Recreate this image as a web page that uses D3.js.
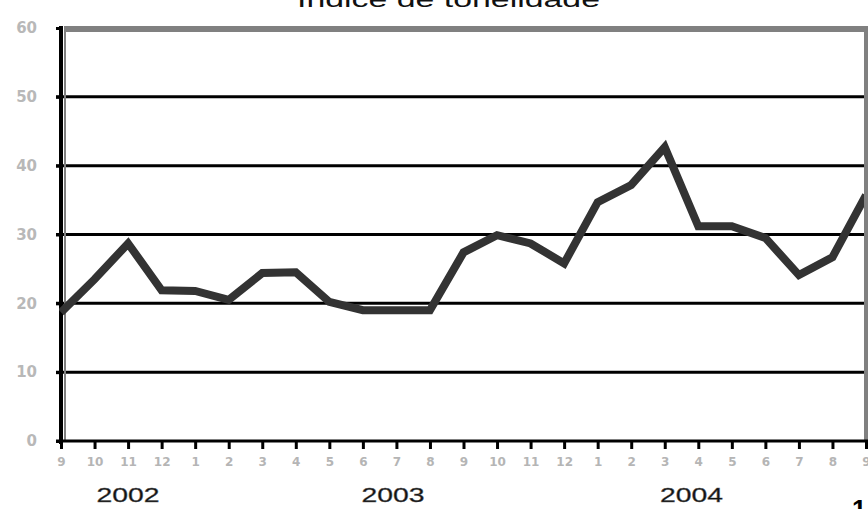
<!DOCTYPE html>
<html>
<head>
<meta charset="utf-8">
<script src="https://cdn.jsdelivr.net/npm/d3@7"></script>
<style>
  body { margin: 0; background: #fff; }
  svg { display: block; }
</style>
</head>
<body>
<div id="chart"></div>
<script>
"use strict";

const TITLE = "Índice de tonelidade";
const MONTHS = ["9", "10", "11", "12", "1", "2", "3", "4", "5", "6", "7", "8",
    "9", "10", "11", "12", "1", "2", "3", "4", "5", "6", "7", "8", "9"];
const VALUES = [18.7, 23.5, 28.7, 21.9, 21.8, 20.5, 24.4, 24.5, 20.2, 19.0, 19.0, 19.0,
    27.4, 29.9, 28.7, 25.8, 34.7, 37.2, 42.7, 31.2, 31.2, 29.5, 24.1, 26.7, 35.7];
const Y_TICKS = [0, 10, 20, 30, 40, 50, 60];
const YEARS = [{ label: "2002", at: 2 }, { label: "2003", at: 9.9 }, { label: "2004", at: 18.8 }];

const W = 868, H = 509;
const LEFT = 61, RIGHT = 866, TOP = 28, BOTTOM = 441;

const svg = d3.select("#chart").append("svg")
    .attr("width", W)
    .attr("height", H);

const x = d3.scaleLinear()
    .domain([0, MONTHS.length - 1])
    .range([LEFT, RIGHT]);

const y = d3.scaleLinear()
    .domain([0, 60])
    .range([BOTTOM, TOP]);

// title, cut off at top like the source
svg.append("text")
    .attr("x", 297)
    .attr("y", 7)
    .attr("textLength", 303)
    .attr("lengthAdjust", "spacingAndGlyphs")
    .style("font", "22px 'Liberation Sans', Arial, sans-serif")
    .style("fill", "#111")
    .text(TITLE);

// gray frame top and right
svg.append("rect")
    .attr("x", LEFT + 3).attr("y", TOP - 2)
    .attr("width", W - LEFT - 3).attr("height", 6)
    .attr("fill", "#808080");
svg.append("rect")
    .attr("x", 864).attr("y", TOP - 2)
    .attr("width", 4).attr("height", BOTTOM - TOP + 2)
    .attr("fill", "#808080");

// horizontal gridlines
svg.append("g")
    .selectAll("line")
    .data(Y_TICKS.filter(d => d > 0 && d < 60))
    .join("line")
    .attr("x1", 56).attr("x2", 864)
    .attr("y1", d => y(d)).attr("y2", d => y(d))
    .attr("stroke", "#000")
    .attr("stroke-width", 3);

// y axis
const yaxis = svg.append("g")
    .attr("transform", `translate(${LEFT},0)`)
    .call(d3.axisLeft(y).tickValues(Y_TICKS).tickSize(5).tickPadding(19)
        .tickFormat(d3.format("d")));
yaxis.select(".domain").remove();
yaxis.selectAll(".tick line").attr("stroke", "#000").attr("stroke-width", 3);
yaxis.selectAll(".tick text")
    .style("font", "bold 15px 'DejaVu Sans', sans-serif")
    .style("fill", "#b8b8b8");
svg.append("line")
    .attr("x1", LEFT).attr("x2", LEFT)
    .attr("y1", TOP - 2).attr("y2", BOTTOM + 3)
    .attr("stroke", "#000").attr("stroke-width", 4);
svg.append("line")
    .attr("x1", LEFT + 4).attr("x2", LEFT + 4)
    .attr("y1", TOP + 4).attr("y2", BOTTOM - 1)
    .attr("stroke", "#808080").attr("stroke-width", 2);

// x axis
const xaxis = svg.append("g")
    .attr("transform", `translate(0,${BOTTOM})`)
    .call(d3.axisBottom(x).tickValues(d3.range(MONTHS.length))
        .tickSize(8).tickPadding(8).tickFormat(i => MONTHS[i]));
xaxis.select(".domain").remove();
xaxis.selectAll(".tick line").attr("stroke", "#000").attr("stroke-width", 3);
xaxis.selectAll(".tick text")
    .style("font", "bold 12px 'DejaVu Sans', sans-serif")
    .style("fill", "#b5b5b5");
svg.append("line")
    .attr("x1", 56).attr("x2", W)
    .attr("y1", BOTTOM).attr("y2", BOTTOM)
    .attr("stroke", "#000").attr("stroke-width", 3);

// year labels
svg.append("g")
    .selectAll("text")
    .data(YEARS)
    .join("text")
    .attr("x", d => x(d.at))
    .attr("y", 502)
    .attr("text-anchor", "middle")
    .style("font", "21px 'Liberation Sans', Arial, sans-serif")
    .style("fill", "#111")
    .style("stroke", "#555")
    .style("stroke-width", 0.4)
    .attr("textLength", 63)
    .attr("lengthAdjust", "spacingAndGlyphs")
    .text(d => d.label);

// page number, cut off
svg.append("text")
    .attr("x", 852)
    .attr("y", 518)
    .style("font", "bold 26px 'Liberation Sans', Arial, sans-serif")
    .style("fill", "#000")
    .text("1");

// series line
const line = d3.line()
    .x((d, i) => x(i))
    .y(d => y(d));

svg.append("clipPath")
    .attr("id", "plot-clip")
    .append("rect")
    .attr("x", LEFT - 2).attr("y", 0)
    .attr("width", 864 - LEFT + 2).attr("height", H);

svg.append("path")
    .datum(VALUES)
    .attr("clip-path", "url(#plot-clip)")
    .attr("d", line)
    .attr("fill", "none")
    .attr("stroke", "#333")
    .attr("stroke-width", 8)
    .attr("stroke-linejoin", "miter");
</script>
</body>
</html>
